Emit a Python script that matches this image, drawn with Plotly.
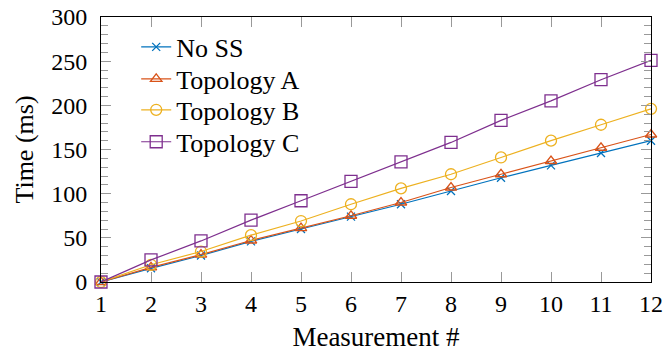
import plotly.graph_objects as go

measurements = list(range(1, 13))
no_ss = [0, 15.5, 30, 46, 60, 74, 88, 103, 118, 132, 146, 160]
topology_a = [0, 16.5, 31, 47, 61, 75, 90, 107, 122, 137, 152, 167]
topology_b = [0, 19.5, 34.5, 53, 69, 88, 106, 122, 141, 160, 178, 196]
topology_c = [0, 25, 46.5, 70, 92, 114, 136, 158, 183, 205, 229, 251]

series = [
    ("No SS", no_ss, "#0072BD", "x-thin-open", 8),
    ("Topology A", topology_a, "#D95319", "triangle-up-open", 10),
    ("Topology B", topology_b, "#EDB120", "circle-open", 11),
    ("Topology C", topology_c, "#7E2F8E", "square-open", 12),
]

FONT = "Liberation Serif"
PLOT_TOP, PLOT_BOTTOM = 17, 282.3
legend_rows = [47, 79, 110, 142]  # legend row anchors (px from top)
legend_ids = ["legend", "legend2", "legend3", "legend4"]

fig = go.Figure()
for (name, vals, color, sym, size), lid in zip(series, legend_ids):
    fig.add_trace(go.Scatter(
        x=measurements, y=vals, name=name, mode="lines+markers",
        line=dict(color=color, width=1.2),
        marker=dict(symbol=sym, size=size, color=color,
                    line=dict(color=color, width=1.3)),
        cliponaxis=False, legend=lid,
    ))

legend_layout = {}
for lid, row in zip(legend_ids, legend_rows):
    legend_layout[lid] = dict(
        x=0.064, y=(PLOT_BOTTOM - row) / (PLOT_BOTTOM - PLOT_TOP),
        xanchor="left", yanchor="middle",
        bgcolor="rgba(255,255,255,0)", borderwidth=0,
        font=dict(family=FONT, size=26), itemwidth=30,
    )

fig.update_layout(
    width=665, height=352,
    margin=dict(l=101, r=14, t=17, b=70, autoexpand=False),
    plot_bgcolor="white", paper_bgcolor="white",
    font=dict(family=FONT, size=24, color="black"),
    showlegend=True,
    **legend_layout,
    xaxis=dict(
        range=[1, 12], tickmode="array", tickvals=measurements,
        showgrid=False, zeroline=False, showline=True, linecolor="black",
        linewidth=1, mirror="allticks", ticks="inside", ticklen=10,
        tickcolor="#999999", tickwidth=1, automargin=False,
        tickfont=dict(family=FONT, size=24),
        title=dict(text="Measurement #", font=dict(family=FONT, size=27),
                   standoff=14),
    ),
    yaxis=dict(
        range=[0, 300], tickmode="array", tickvals=[0, 50, 100, 150, 200, 250, 300],
        showgrid=False, zeroline=False, showline=True, linecolor="black",
        linewidth=1, mirror="allticks", ticks="inside", ticklen=10,
        tickcolor="#999999", tickwidth=1, ticklabelstandoff=8, automargin=False,
        minor=dict(dtick=10, ticks="inside", ticklen=7, tickcolor="#999999",
                   showgrid=False),
        tickfont=dict(family=FONT, size=24),
        title=dict(text="Time (ms)", font=dict(family=FONT, size=26),
                   standoff=10),
    ),
)

fig.write_html("out.html")
